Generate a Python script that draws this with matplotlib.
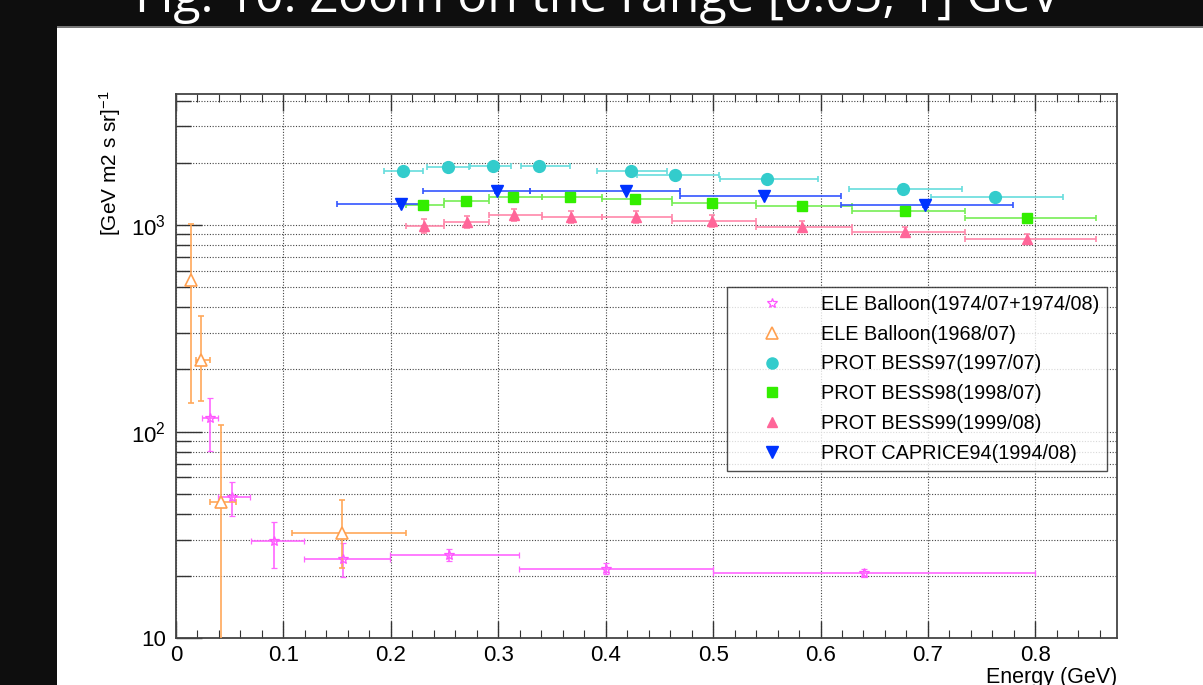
import matplotlib.pyplot as plt
import matplotlib.patches as mpatches
from matplotlib.lines import Line2D
from matplotlib.ticker import FixedLocator, FuncFormatter, MultipleLocator, NullFormatter
import numpy as np

plt.rcParams['font.family'] = ['Liberation Sans', 'DejaVu Sans']
plt.rcParams['mathtext.fontset'] = 'custom'
plt.rcParams['mathtext.rm'] = 'Liberation Sans'
plt.rcParams['mathtext.it'] = 'Liberation Sans:italic'

# ELE Balloon(1974/07+1974/08)
ele74_x = [0.0317, 0.0525, 0.0913, 0.155, 0.254, 0.4005, 0.6405]
ele74_y = [116, 48.1, 29.6, 24.1, 25.3, 21.7, 20.6]
ele74_xlo = [0.024, 0.0393, 0.0695, 0.1195, 0.199, 0.319, 0.5]
ele74_xhi = [0.0393, 0.0689, 0.1195, 0.199, 0.319, 0.5, 0.8]
ele74_ylo = [80.6, 39.1, 22.0, 19.9, 23.7, 20.5, 19.7]
ele74_yhi = [146, 56.9, 36.6, 28.8, 27.0, 23.1, 21.6]

# ELE Balloon(1968/07)
ele68_x = [0.0137, 0.0233, 0.0419, 0.1543]
ele68_y = [541, 222, 45.8, 32.4]
ele68_xlo = [0.0137, 0.0183, 0.0317, 0.1077]
ele68_xhi = [0.0137, 0.0317, 0.0559, 0.2142]
ele68_ylo = [137, 141, 1.0, 21.8]
ele68_yhi = [1016, 362, 108, 46.7]

# PROT BESS97(1997/07)
b97_x = [0.211, 0.2536, 0.2955, 0.338, 0.4233, 0.4649, 0.55, 0.6766, 0.762]
b97_y = [1828, 1913, 1928, 1928, 1828, 1750, 1663, 1492, 1368]
b97_xlo = [0.1937, 0.2334, 0.2737, 0.3212, 0.3917, 0.4289, 0.5065, 0.6269, 0.7027]
b97_xhi = [0.2303, 0.2725, 0.3116, 0.3669, 0.4575, 0.5056, 0.5975, 0.7321, 0.8253]
b97_yerr = [70, 75, 75, 75, 70, 65, 60, 55, 50]

# PROT BESS98(1998/07)
b98_x = [0.2303, 0.2697, 0.3141, 0.3669, 0.4274, 0.4988, 0.5826, 0.6788, 0.7921]
b98_y = [1248, 1309, 1360, 1360, 1334, 1279, 1238, 1167, 1076]
b98_xlo = [0.2142, 0.2495, 0.2917, 0.3405, 0.3969, 0.4621, 0.54, 0.6297, 0.7346]
b98_xhi = [0.2495, 0.2917, 0.3405, 0.3969, 0.4621, 0.54, 0.6297, 0.7346, 0.8563]
b98_yerr = [60, 55, 55, 50, 50, 50, 50, 50, 50]

# PROT BESS99(1999/08)
b99_x = [0.2312, 0.2706, 0.315, 0.3675, 0.428, 0.4994, 0.5826, 0.6788, 0.7921]
b99_y = [989, 1037, 1117, 1097, 1097, 1047, 980, 926, 855]
b99_xlo = [0.2142, 0.2495, 0.2917, 0.3405, 0.3969, 0.4621, 0.54, 0.6297, 0.7346]
b99_xhi = [0.2495, 0.2917, 0.3405, 0.3969, 0.4621, 0.54, 0.6297, 0.7346, 0.8563]
b99_yerr = [75, 70, 75, 70, 70, 65, 60, 55, 50]

# PROT CAPRICE94(1994/08)
cap_x = [0.2092, 0.2986, 0.4187, 0.5478, 0.6974]
cap_y = [1262, 1455, 1462, 1380, 1248]
cap_xlo = [0.1496, 0.2297, 0.3296, 0.4693, 0.619]
cap_xhi = [0.2297, 0.3296, 0.4693, 0.619, 0.779]
cap_yerr = [20, 20, 20, 20, 20]

labels = ['ELE Balloon(1974/07+1974/08)', 'ELE Balloon(1968/07)',
          'PROT BESS97(1997/07)', 'PROT BESS98(1998/07)',
          'PROT BESS99(1999/08)', 'PROT CAPRICE94(1994/08)']

W, H = 1203, 685
fig = plt.figure(figsize=(W / 100, H / 100), dpi=100)
fig.patch.set_facecolor('white')

# dark page border (top band and left strip)
fig.patches.append(mpatches.Rectangle((0, 1 - 27 / H), 1, 27 / H, transform=fig.transFigure,
                                      facecolor='#0e0e0e', edgecolor='none', zorder=0))
fig.patches.append(mpatches.Rectangle((0, 0), 57 / W, 1, transform=fig.transFigure,
                                      facecolor='#0e0e0e', edgecolor='none', zorder=0))
fig.patches.append(mpatches.Rectangle((57 / W, 1 - 28 / H), 1, 1.5 / H, transform=fig.transFigure,
                                      facecolor='#777777', edgecolor='none', zorder=0))
fig.text(598 / W, 1 - 12 / H, 'Fig. 10: Zoom on the range [0.05, 1] GeV', color='white',
         fontsize=36, family=['Open Sans', 'DejaVu Sans'], ha='center', va='baseline')

ax = fig.add_axes([176 / W, 1 - 638.3 / H, (1117 - 176) / W, (638.3 - 94.3) / H])
ax.set_yscale('log')
ax.set_xlim(0, 0.876)
ax.set_ylim(10, 4290)


def asym(v, lo, hi):
    v, lo, hi = np.array(v), np.array(lo), np.array(hi)
    return [v - lo, hi - v]


eb = dict(linestyle='none', elinewidth=1.2, capsize=2.2, capthick=1.2, zorder=3)

ax.errorbar(ele74_x, ele74_y, xerr=asym(ele74_x, ele74_xlo, ele74_xhi),
            yerr=asym(ele74_y, ele74_ylo, ele74_yhi), marker='*', ms=7.5, mew=0.9,
            mfc='none', mec='#ff55ff', color='#ff66ff', **eb)
ax.errorbar(ele68_x, ele68_y, xerr=asym(ele68_x, ele68_xlo, ele68_xhi),
            yerr=asym(ele68_y, ele68_ylo, ele68_yhi), marker='^', ms=8, mew=1.2,
            mfc='white', mec='#ffa050', color='#ffa85a', **eb)
ax.errorbar(b97_x, b97_y, xerr=asym(b97_x, b97_xlo, b97_xhi), yerr=b97_yerr,
            marker='o', ms=8.5, mfc='#33cccc', mec='#33cccc', color='#66dddd', **eb)
ax.errorbar(b98_x, b98_y, xerr=asym(b98_x, b98_xlo, b98_xhi), yerr=b98_yerr,
            marker='s', ms=7.5, mfc='#33ee00', mec='#33ee00', color='#77ee55', **eb)
ax.errorbar(b99_x, b99_y, xerr=asym(b99_x, b99_xlo, b99_xhi), yerr=b99_yerr,
            marker='^', ms=7.5, mfc='#ff6699', mec='#ff6699', color='#ff88aa', **eb)
ax.errorbar(cap_x, cap_y, xerr=asym(cap_x, cap_xlo, cap_xhi), yerr=cap_yerr,
            marker='v', ms=8, mfc='#0033ff', mec='#0033ff', color='#3355ff', **eb)

# axes styling (ROOT-like)
for s in ax.spines.values():
    s.set_color('#444444')
    s.set_linewidth(1.3)
ax.xaxis.set_major_locator(MultipleLocator(0.1))
ax.xaxis.set_minor_locator(MultipleLocator(0.02))
ax.xaxis.set_major_formatter(FuncFormatter(lambda v, p: '0' if abs(v) < 1e-9 else f'{v:.1f}'))
ax.yaxis.set_major_locator(FixedLocator([10, 100, 1000]))
ax.yaxis.set_minor_locator(FixedLocator([m * 10 ** e for e in (1, 2, 3) for m in range(2, 10)]))
ax.yaxis.set_major_formatter(FuncFormatter(
    lambda v, p: '10' if v == 10 else r'$\mathregular{10^{%d}}$' % round(np.log10(v))))
ax.yaxis.set_minor_formatter(NullFormatter())
ax.tick_params(axis='both', which='both', direction='in', colors='#333333', labelcolor='black',
               labelsize=16, top=True)
ax.tick_params(axis='x', which='major', length=12, width=1, pad=4.5)
ax.tick_params(axis='x', which='minor', length=6, width=0.8)
ax.tick_params(axis='y', which='major', length=19, width=1, pad=7)
ax.tick_params(axis='y', which='minor', length=10.5, width=1)
ax.grid(which='major', axis='x', color='#444444', linestyle=(0, (1, 1.5)), linewidth=0.8)
ax.grid(which='both', axis='y', color='#444444', linestyle=(0, (1, 1.5)), linewidth=0.8)
ax.set_axisbelow(True)

fig.text(1117 / W, 1 - 667 / H, 'Energy (GeV)', fontsize=15.5, ha='right', va='top')
fig.text(110 / W, 1 - 90 / H, r'[GeV m2 s sr]$^{\mathregular{-1}}$', fontsize=15,
         rotation=90, ha='center', va='top')

# legend
handles = [
    Line2D([], [], ls='none', marker='*', ms=7.5, mew=0.9, mfc='none', mec='#ff55ff'),
    Line2D([], [], ls='none', marker='^', ms=8, mew=1.2, mfc='white', mec='#ffa050'),
    Line2D([], [], ls='none', marker='o', ms=8, color='#33cccc'),
    Line2D([], [], ls='none', marker='s', ms=7.5, color='#33ee00'),
    Line2D([], [], ls='none', marker='^', ms=7.5, color='#ff6699'),
    Line2D([], [], ls='none', marker='v', ms=8, color='#0033ff'),
]
leg = ax.legend(handles, labels, loc='upper left', bbox_to_anchor=((726.7 - 176) / 941, (638.3 - 286.7) / 544),
                borderaxespad=0, fontsize=14.3, frameon=True, fancybox=False, edgecolor='#222222',
                borderpad=0.4, handlelength=3.8, handletextpad=0.55, labelspacing=0.55)
leg.get_frame().set_linewidth(1.0)

fig.savefig('out.png', dpi=100, facecolor=fig.get_facecolor())
